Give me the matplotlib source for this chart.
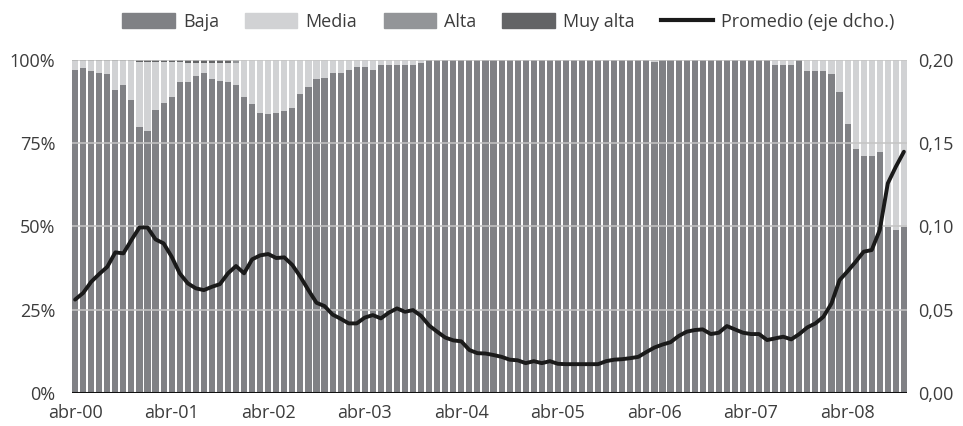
import numpy as np
import matplotlib
matplotlib.use("Agg")
import matplotlib.pyplot as plt
from matplotlib.patches import Patch
from matplotlib.lines import Line2D

plt.rcParams['font.family'] = ['Open Sans', 'DejaVu Sans']

# monthly data, abr-00 .. nov-08 (104 months)
baja = [97.0, 97.5, 96.7, 96.0, 95.8, 91.0, 92.5, 88.0, 80.0, 78.7,
        85.0, 87.0, 89.0, 93.4, 93.4, 95.2, 96.0, 94.2, 93.7, 93.4,
        92.5, 88.9, 86.8, 84.1, 83.8, 84.1, 84.7, 85.6, 89.8, 91.9,
        94.3, 94.6, 96.1, 96.1, 97.0, 97.9, 97.9, 97.0, 98.5, 98.5,
        98.5, 98.5, 98.5, 99.2, 100, 100, 100, 100, 100, 100,
        100, 100, 100, 100, 100, 100, 100, 100, 100, 100,
        100, 100, 100, 100, 100, 100, 100, 100, 100, 100,
        100, 100, 99.4, 100, 100, 100, 100, 100, 100, 100,
        100, 100, 100, 100, 100, 100, 100, 98.5, 98.5, 98.5,
        100, 96.8, 96.8, 96.8, 95.8, 90.5, 80.8, 73.3, 71.1, 71.1,
        72.3, 49.9, 48.9, 49.9]
media = [2.6, 2.1, 2.9, 3.6, 3.8, 8.6, 7.1, 11.6, 19.5, 20.8,
         14.5, 12.5, 10.5, 6.1, 5.7, 3.9, 3.1, 4.9, 5.4, 5.7,
         6.6, 11.1, 13.2, 15.9, 16.2, 15.9, 15.3, 14.4, 10.2, 8.1,
         5.7, 5.4, 3.9, 3.9, 3.0, 2.1, 2.1, 3.0, 1.5, 1.5,
         1.5, 1.5, 1.5, 0.8, 0, 0, 0, 0, 0, 0,
         0, 0, 0, 0, 0, 0, 0, 0, 0, 0,
         0, 0, 0, 0, 0, 0, 0, 0, 0, 0,
         0, 0, 0.6, 0, 0, 0, 0, 0, 0, 0,
         0, 0, 0, 0, 0, 0, 0, 1.5, 1.5, 1.5,
         0, 3.2, 3.2, 3.2, 4.2, 9.5, 19.2, 26.7, 28.9, 28.9,
         27.7, 50.1, 51.1, 50.1]
alta = [0.4, 0.4, 0.4, 0.4, 0.4, 0.4, 0.4, 0.4, 0, 0,
        0, 0, 0, 0, 0, 0, 0, 0, 0, 0,
        0.9] + [0] * 83
muy_alta = [0, 0, 0, 0, 0, 0, 0, 0, 0.5, 0.5,
            0.5, 0.5, 0.5, 0.5, 0.9, 0.9, 0.9, 0.9, 0.9, 0.9] + [0] * 84
promedio = [0.056, 0.060, 0.0667, 0.0714, 0.0757, 0.0844, 0.0838, 0.0918, 0.0994, 0.0994,
            0.0922, 0.0898, 0.0818, 0.0718, 0.0658, 0.0628, 0.0617, 0.0637, 0.0653, 0.0718,
            0.0762, 0.0718, 0.0802, 0.0826, 0.0834, 0.0810, 0.0814, 0.0768, 0.0697, 0.0617,
            0.0541, 0.0521, 0.0470, 0.0445, 0.0417, 0.0417, 0.0452, 0.0467, 0.0447, 0.0482,
            0.0507, 0.0487, 0.0497, 0.0462, 0.0404, 0.0367, 0.0332, 0.0315, 0.0309, 0.0257,
            0.0238, 0.0236, 0.0227, 0.0216, 0.0199, 0.0195, 0.0178, 0.0190, 0.0178, 0.0190,
            0.0174, 0.0172, 0.0172, 0.0172, 0.0172, 0.0172, 0.0190, 0.0199, 0.0202, 0.0208,
            0.0216, 0.0245, 0.0272, 0.0290, 0.0304, 0.0341, 0.0367, 0.0377, 0.0381, 0.0353,
            0.0361, 0.0401, 0.0381, 0.0361, 0.0353, 0.0353, 0.0317, 0.0327, 0.0337, 0.0321,
            0.0353, 0.0393, 0.0417, 0.0457, 0.0537, 0.0677, 0.0730, 0.0787, 0.0848, 0.0858,
            0.0978, 0.1259, 0.1359, 0.1449]
tick_labels = ['abr-00', 'abr-01', 'abr-02', 'abr-03', 'abr-04',
               'abr-05', 'abr-06', 'abr-07', 'abr-08']

c_baja = '#808185'
c_media = '#d1d2d4'
c_alta = '#939598'
c_muy = '#636466'
c_text = '#3c3c3c'

x = np.arange(len(baja))
baja = np.array(baja)
media = np.array(media)
alta = np.array(alta)
muy_alta = np.array(muy_alta)

fig = plt.figure(figsize=(9.63, 4.26), dpi=100)
ax = fig.add_axes([0.0748, 0.078, 0.867, 0.781])

w = 0.76
ax.bar(x, baja, w, color=c_baja, zorder=1)
ax.bar(x, media, w, bottom=baja, color=c_media, zorder=1)
ax.bar(x, alta, w, bottom=baja + media, color=c_alta, zorder=1)
ax.bar(x, muy_alta, w, bottom=baja + media + alta, color=c_muy, zorder=1)

for yv in [25, 50, 75, 100]:
    ax.axhline(yv, color='#c4c4c4', lw=1.1, zorder=2)
ax.axhline(0, color='#111111', lw=2.2, zorder=3)

ax.set_xlim(-w / 2, len(x) - 1 + w / 2)
ax.set_ylim(0, 100)
ax.set_yticks([0, 25, 50, 75, 100])
ax.set_yticklabels(['0%', '25%', '50%', '75%', '100%'])
ax.set_xticks(x[::12])
ax.set_xticklabels(tick_labels)
ax.tick_params(length=0, labelsize=13, colors=c_text, pad=8)
ax.tick_params(axis='y', pad=12)
for s in ax.spines.values():
    s.set_visible(False)

ax2 = ax.twinx()
ax2.plot(x, promedio, color='#1a1a1a', lw=2.8, zorder=5, solid_capstyle='round')
ax2.set_ylim(0, 0.2)
ax2.set_yticks([0, 0.05, 0.10, 0.15, 0.20])
ax2.set_yticklabels(['0,00', '0,05', '0,10', '0,15', '0,20'])
ax2.tick_params(length=0, labelsize=13, colors=c_text, pad=8)
for s in ax2.spines.values():
    s.set_visible(False)

handles = [Patch(color=c_baja), Patch(color=c_media), Patch(color=c_alta),
           Patch(color=c_muy), Line2D([0], [0], color='#1a1a1a', lw=3)]
labels = ['Baja', 'Media', 'Alta', 'Muy alta', 'Promedio (eje dcho.)']
leg = fig.legend(handles, labels, loc='center', bbox_to_anchor=(0.528, 0.948),
                 ncol=5, frameon=False, fontsize=13, handlelength=2.9,
                 handleheight=0.9, handletextpad=0.45, columnspacing=1.45)
for t in leg.get_texts():
    t.set_color(c_text)

fig.savefig('out.png', dpi=100)
